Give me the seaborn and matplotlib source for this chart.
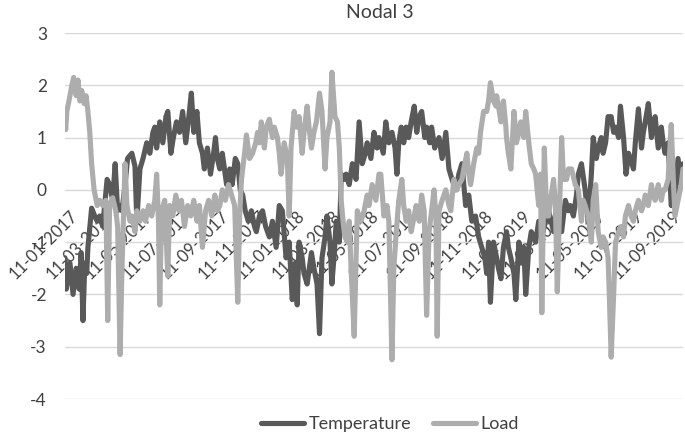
import numpy as np
import pandas as pd
import matplotlib
matplotlib.use("Agg")
import matplotlib.pyplot as plt
from matplotlib.lines import Line2D
import matplotlib.transforms as mtransforms
import seaborn as sns

# ---- data (day offsets from 11-01-2017, standardized values) ----
start_date = "2017-01-11"

temp_days = [0, 2, 8, 13, 18, 23, 26, 29, 32, 35, 37, 43, 48, 52, 56, 61, 64, 68, 72, 77, 81, 85,
             89, 92, 97, 101, 108, 113, 116, 121, 126, 132, 137, 142, 145, 148, 153, 158, 163, 166,
             171, 175, 180, 185, 190, 195, 200, 204, 208, 213, 217, 222, 225, 230, 235, 240, 243,
             246, 250, 254, 261, 266, 270, 275, 279, 283, 287, 291, 296, 301, 306, 309, 314, 319,
             324, 330, 335, 341, 346, 351, 357, 362, 367, 372, 375, 378, 383, 386, 391, 398, 402,
             407, 411, 415, 420, 423, 428, 431, 435, 438, 443, 446, 451, 454, 459, 464, 470, 475,
             480, 485, 488, 494, 499, 504, 507, 514, 518, 523, 528, 533, 536, 539, 543, 547, 551,
             555, 559, 564, 568, 572, 576, 581, 584, 589, 592, 597, 604, 609, 615, 620, 625, 631,
             636, 641, 647, 652, 657, 663, 668, 673, 678, 681, 684, 687, 692, 697, 700, 704, 708,
             713, 716, 720, 725, 728, 733, 737, 741, 744, 749, 753, 760, 765, 770, 776, 781, 789,
             794, 797, 802, 808, 813, 816, 821, 826, 829, 834, 840, 845, 850, 853, 858, 861, 866,
             869, 873, 877, 882, 886, 889, 894, 897, 902, 906, 910, 913, 918, 921, 926, 931, 934,
             937, 942, 947, 950, 953, 958, 963, 966, 969, 974, 979, 982, 985, 990, 995, 998]
temp_vals = [-1.3, -1.9, -1.4, -2.0, -1.5, -1.9, -1.2, -2.5, -1.4, -1.6, -1.1, -0.35, -0.5, -0.6,
             -0.5, -0.7, -0.3, 0.2, 0.1, -0.2, 0.5, -0.4, -0.3, -0.4, 0.1, 0.6, 0.7, 0.45, -0.6, 0.4,
             0.6, 0.9, 0.7, 1.1, 1.2, 0.8, 1.3, 0.9, 1.4, 1.5, 0.7, 1.0, 1.3, 1.1, 1.5, 0.9, 1.4,
             1.85, 1.1, 1.5, 0.9, 0.7, 0.4, 0.8, 0.3, 0.7, 1.0, 0.6, 0.4, 0.7, 0.1, 0.4, 0.1, 0.6,
             0.5, 0.0, -0.1, -0.4, -0.6, -0.4, -0.7, -0.8, -0.5, -0.4, -0.7, -0.9, -0.6, -1.1, -0.3,
             -0.4, -1.3, -1.0, -2.1, -1.4, -2.2, -1.0, -1.3, -1.6, -1.8, -1.2, -1.5, -1.8, -2.75,
             -1.3, -0.9, -0.5, -1.0, -1.8, -1.2, -0.6, -1.0, 0.3, 0.2, 0.3, 0.1, 0.5, 0.2, 1.3, 0.5,
             0.7, 0.9, 0.6, 1.1, 0.8, 1.0, 0.7, 1.3, 0.9, 1.1, 0.8, 0.3, 0.9, 1.2, 0.9, 1.2, 1.0,
             1.3, 1.6, 1.1, 1.4, 1.5, 1.0, 1.2, 0.9, 1.2, 0.8, 1.0, 0.6, 1.1, 0.4, 0.2, 0.0, 0.3,
             0.5, -0.3, -0.1, -0.6, -0.5, -0.9, -1.1, -1.3, -1.6, -1.0, -2.15, -1.0, -1.3, -1.5,
             -1.7, -1.1, -0.8, -1.1, -1.3, -1.6, -2.1, -1.0, -1.4, -1.1, -2.0, -1.1, -0.8, -1.0,
             -0.6, -0.9, -0.6, -0.4, -0.8, -0.3, -0.5, -0.8, -0.2, -0.4, -0.3, -0.5, -0.1, 0.3, 0.5,
             0.0, -0.6, 0.3, 1.0, 0.6, 0.8, 1.0, 0.7, 0.9, 1.4, 1.4, 1.1, 1.2, 1.0, 1.6, 1.0, 0.3,
             0.7, 0.6, 0.4, 0.9, 1.55, 0.8, 1.1, 1.3, 1.65, 1.0, 1.3, 1.4, 0.8, 1.2, 0.9, 0.7, 0.9,
             -0.3, -0.2, -0.1, 0.6, 0.1, 0.5]

load_days = [0, 1, 3, 8, 11, 14, 18, 21, 24, 27, 31, 34, 37, 40, 43, 47, 52, 56, 61, 66, 69, 72,
             77, 82, 85, 89, 92, 97, 100, 105, 108, 113, 116, 121, 126, 130, 135, 140, 145, 148,
             151, 153, 156, 161, 166, 169, 174, 179, 184, 188, 193, 198, 203, 208, 213, 217, 222,
             227, 232, 237, 242, 246, 250, 254, 259, 264, 269, 274, 279, 282, 285, 290, 293, 298,
             303, 308, 311, 314, 317, 322, 325, 330, 335, 338, 343, 346, 349, 354, 359, 362, 365,
             370, 374, 378, 383, 386, 391, 394, 398, 402, 406, 411, 415, 420, 423, 428, 431, 436,
             440, 443, 446, 449, 452, 456, 459, 462, 467, 472, 478, 483, 488, 491, 496, 502, 507,
             510, 515, 520, 523, 528, 531, 535, 539, 544, 547, 551, 555, 559, 564, 567, 572, 576,
             580, 584, 588, 591, 596, 599, 601, 604, 609, 615, 620, 623, 628, 633, 636, 641, 644,
             649, 652, 655, 660, 665, 668, 671, 676, 681, 684, 687, 692, 696, 697, 700, 704, 708,
             712, 713, 716, 720, 725, 728, 729, 733, 736, 741, 744, 749, 753, 757, 760, 765, 768,
             770, 773, 774, 778, 781, 784, 789, 792, 795, 799, 802, 805, 810, 813, 818, 824, 829,
             834, 837, 840, 845, 850, 853, 857, 861, 866, 869, 873, 877, 879, 882, 886, 889, 894,
             898, 902, 905, 910, 914, 918, 921, 926, 931, 934, 937, 942, 947, 950, 953, 958, 963,
             966, 969, 974, 979, 982, 985, 990, 995, 998]
load_vals = [1.5, 1.15, 1.5, 1.8, 2.0, 2.15, 1.8, 2.1, 1.7, 1.9, 1.65, 1.8, 1.5, 1.1, 0.5, 0.0,
             -0.3, -0.2, -0.3, -0.2, -2.5, -0.3, -0.15, -0.4, -0.7, -3.15, -1.5, 0.5, -0.3, -0.6,
             -0.5, -0.8, -0.4, -0.6, -0.4, -0.6, -0.3, -0.5, -0.2, 0.3, -0.6, -2.2, -0.4, -0.2,
             -1.65, -0.3, -0.5, -0.1, -0.4, -0.2, -0.7, -0.3, -0.5, -0.2, -0.6, -0.3, -1.1, -0.4,
             -0.2, -0.5, -0.1, -0.4, -0.3, 0.0, -0.2, 0.1, -0.1, -0.3, -2.15, -0.5, 0.2, 0.7, 1.05,
             0.6, 0.7, 0.9, 1.1, 0.9, 1.3, 0.8, 1.2, 1.35, 1.0, 1.2, 1.0, 0.7, 0.3, 0.9, 0.6, -0.5,
             0.8, 1.5, 1.2, 1.4, 0.7, 1.1, 1.6, 1.2, 0.8, 1.1, 1.3, 1.85, 1.5, 0.4, 1.0, 1.3, 2.25,
             1.4, 1.3, 0.8, -0.2, -0.6, -0.9, -1.0, -0.6, -1.5, -2.8, -0.4, -0.6, -0.4, -0.1, -0.3,
             0.1, -0.2, 0.3, 0.3, -0.5, -0.3, -0.6, -3.25, -1.5, -0.8, -0.2, 0.2, -0.3, -0.6, -0.4,
             -0.8, -0.5, -0.3, -0.6, -0.1, -0.4, -2.4, -0.8, -0.5, 0.0, -0.5, -2.8, -0.4, -0.2, 0.0,
             -0.3, -0.4, 0.2, 0.0, 0.1, 0.2, 0.4, 0.7, 0.3, 0.1, 0.5, 0.8, 0.7, 1.1, 1.5, 1.5, 1.7,
             2.05, 1.7, 1.6, 1.8, 1.6, 1.3, 1.7, 1.2, 1.0, 0.7, 0.4, 1.5, 1.1, 0.9, 1.1, 1.3, 1.0,
             1.5, 0.9, 0.5, 0.4, 0.3, -0.3, 0.3, -2.35, 0.0, 0.8, -0.5, -0.5, -0.2, 0.2, -0.3,
             -1.95, -0.2, 1.0, 0.2, 0.2, 0.4, 0.4, 0.1, 0.0, -0.6, -0.2, -0.3, -0.5, -1.0, -0.2,
             0.1, -0.8, -1.1, -0.9, -1.0, -1.3, -2.0, -3.2, -2.0, -1.0, -0.8, -0.7, -0.9, -0.5,
             -0.3, -0.5, -0.6, -0.4, -0.2, -0.4, -0.3, -0.1, -0.3, 0.1, -0.1, -0.2, 0.1, -0.2, 0.0,
             0.0, 0.2, 1.25, 0.3, -0.5, -0.2, 0.1, 0.4]

series_names = ["Temperature", "Load"]
series_colors = ["#595959", "#ADADAD"]
y_ticks = [-4, -3, -2, -1, 0, 1, 2, 3]
n_date_ticks = 17          # 11-01-2017 ... 11-09-2019, every 2 months
title = "Nodal 3"

# ---- build tidy frame ----
t0 = pd.Timestamp(start_date)
df = pd.concat([
    pd.DataFrame({"date": t0 + pd.to_timedelta(temp_days, unit="D"),
                  "value": temp_vals, "series": series_names[0]}),
    pd.DataFrame({"date": t0 + pd.to_timedelta(load_days, unit="D"),
                  "value": load_vals, "series": series_names[1]}),
])

sns.set_style("white")
plt.rcParams["font.family"] = ["Lato", "DejaVu Sans"]
text_color = "#404040"

fig = plt.figure(figsize=(6.85, 4.36), dpi=100)
ax = fig.add_axes([65 / 685, 1 - 399 / 436, (683 - 65) / 685, (399 - 33) / 436])

sns.lineplot(data=df, x="date", y="value", hue="series", hue_order=series_names,
             palette=series_colors, linewidth=3.7, ax=ax, legend=False, estimator=None,
             sort=False)

ax.set_ylim(-4, 3)
ax.set_xlim(t0, t0 + pd.Timedelta(days=998))
ax.set_yticks(y_ticks)
ax.set_yticklabels([str(v) for v in y_ticks])
ax.grid(axis="y", color="#D9D9D9", linewidth=1.0)
ax.grid(axis="x", visible=False)
ax.set_axisbelow(True)
for s in ax.spines.values():
    s.set_visible(False)
ax.spines["bottom"].set_position(("data", 0))

xt = [t0 + pd.DateOffset(months=2 * i) for i in range(n_date_ticks)]
ax.set_xticks(xt)
ax.set_xticklabels([d.strftime("%d-%m-%Y") for d in xt], rotation=45, ha="right",
                   rotation_mode="anchor", fontsize=12, color=text_color)
ax.tick_params(axis="x", length=0, pad=13)
shift = mtransforms.ScaledTranslation(5 / 100, 0, fig.dpi_scale_trans)
for lab in ax.get_xticklabels():
    lab.set_transform(lab.get_transform() + shift)
ax.tick_params(axis="y", length=0, pad=13, labelsize=12.5, labelcolor=text_color)
ax.set_xlabel("")
ax.set_ylabel("")

fig.text(380 / 685, 1 - 13 / 436, title, ha="center", va="center", fontsize=14,
         color=text_color)

handles = [Line2D([0], [0], color=c, lw=3.7) for c in series_colors]
fig.legend(handles, series_names, loc="center", bbox_to_anchor=(390 / 685, 1 - 424 / 436),
           ncol=2, frameon=False, fontsize=13, handlelength=2.4, handletextpad=0.25,
           columnspacing=1.2, labelcolor=text_color)

fig.savefig("out.png", dpi=100)
